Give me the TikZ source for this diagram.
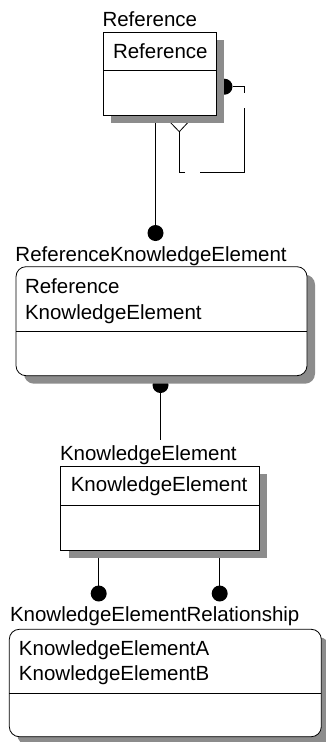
\documentclass[tikz,border=0pt]{standalone}
\usepackage{fontspec}
\setmainfont{Liberation Sans}
\usetikzlibrary{shadows}
\pgfdeclarelayer{bg}
\pgfsetlayers{bg,main}
\begin{document}
\begin{tikzpicture}[x=1pt,y=-1pt,
  font=\fontsize{20.5pt}{24pt}\selectfont,
  entity/.style={draw, line width=0.8pt, fill=white, anchor=north west, inner sep=0pt, outer sep=0pt,
     drop shadow={shadow xshift=8pt, shadow yshift=-8pt, opacity=1, fill=black!45}},
  rentity/.style={entity, rounded corners=10pt},
  lbl/.style={anchor=base west, inner sep=0pt, outer sep=0pt},
  conn/.style={line width=0.8pt},
  dotr/.style={fill=black}]
\useasboundingbox (0,0) rectangle (325,742);

% Reference
\node[lbl] (reft) at (102.5,26) {Reference};
\node[entity, minimum width=112.7pt, minimum height=83pt] (ref) at (103.3,32.3) {};
\node[lbl] (refa) at (113,58.3) {Reference};
\draw[conn] (ref.west |- 0,70.7) -- (ref.east |- 0,70.7);

% ReferenceKnowledgeElement
\node[lbl] (rket) at (15.5,261) {ReferenceKnowledgeElement};
\node[rentity, minimum width=291pt, minimum height=109pt] (rke) at (16,266.7) {};
\node[lbl] (rkea) at (25,293) {Reference};
\node[lbl] (rkeb) at (25,319) {KnowledgeElement};
\draw[conn] (rke.west |- 0,331.7) -- (rke.east |- 0,331.7);

% KnowledgeElement
\node[lbl] (ket) at (60,460) {KnowledgeElement};
\node[entity, minimum width=198.6pt, minimum height=84pt] (ke) at (60.7,466) {};
\node[lbl] (kea) at (70.8,491.7) {KnowledgeElement};
\draw[conn] (ke.west |- 0,505) -- (ke.east |- 0,505);

% KnowledgeElementRelationship
\node[lbl] (kert) at (10,621.7) {KnowledgeElementRelationship};
\node[rentity, minimum width=312pt, minimum height=107.4pt] (ker) at (9.3,629.3) {};
\node[lbl] (kera) at (19,655) {KnowledgeElementA};
\node[lbl] (kerb) at (19,680) {KnowledgeElementB};
\draw[conn] (ker.west |- 0,693.3) -- (ker.east |- 0,693.3);

% connectors (under the shadows)
\coordinate (d1) at (155.5,233);
\coordinate (d2) at (160.5,385);
\coordinate (k1) at (160.5,440);
\coordinate (d3) at (98.7,593.5);
\coordinate (d4) at (219.7,593.5);
\coordinate (s0) at (224.5,86.7);
\coordinate (s1) at (232.5,86.7);
\coordinate (s2) at (244,86.7);
\coordinate (s3) at (244,93.3);
\coordinate (s4) at (244,108.3);
\coordinate (s5) at (244,172.7);
\coordinate (s6) at (200,172.7);
\coordinate (s7) at (185,172.7);
\coordinate (s8) at (179.3,172.7);
\coordinate (cf) at (179.3,131.7);
\coordinate (cfl) at (169,121);
\coordinate (cfr) at (189.3,121);
\begin{pgfonlayer}{bg}
\fill[white] (0,0) rectangle (325,742);
\draw[conn] (ref.south -| d1) -- (d1);
\fill[dotr] (d1) circle (8pt);
\fill[dotr] (d2) circle (8pt);
\draw[conn] (d2) -- (k1);
\draw[conn] (ke.south -| d3) -- (d3);
\fill[dotr] (d3) circle (8pt);
\draw[conn] (ke.south -| d4) -- (d4);
\fill[dotr] (d4) circle (8pt);
% self relationship
\fill[dotr] (s0) circle (8pt);
\draw[conn] (s1) -- (s2) -- (s3);
\draw[conn] (s4) -- (s5) -- (s6);
\draw[conn] (s7) -- (s8) -- (cf);
\draw[conn] (cfl) -- (cf) -- (cfr);
\end{pgfonlayer}
\end{tikzpicture}
\end{document}
